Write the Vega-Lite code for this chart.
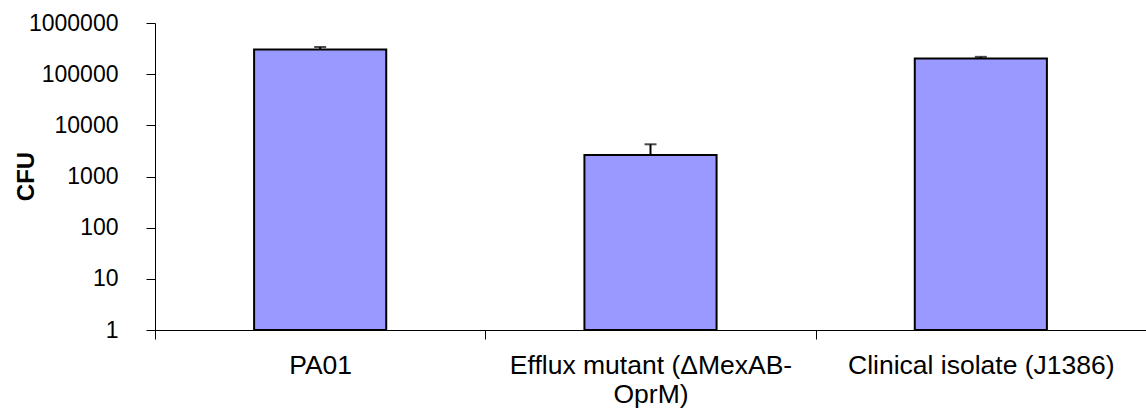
{
  "$schema": "https://vega.github.io/schema/vega-lite/v6.json",
  "autosize": "none",
  "width": 991,
  "height": 307,
  "padding": {"left": 155, "top": 23, "right": 0, "bottom": 79},
  "background": "white",
  "config": {
    "font": "Liberation Sans",
    "view": {"stroke": null},
    "axis": {"labelFont": "Liberation Sans", "titleFont": "Liberation Sans", "labelColor": "black", "titleColor": "black", "domainColor": "black", "tickColor": "black", "grid": false}
  },
  "data": {
    "values": [
      {"strain": "PA01", "cfu": 303000, "upper": 340000},
      {"strain": "Efflux mutant (ΔMexAB-OprM)", "cfu": 2630, "upper": 4260},
      {"strain": "Clinical isolate (J1386)", "cfu": 202000, "upper": 218000}
    ]
  },
  "encoding": {
    "x": {
      "field": "strain", "type": "nominal", "sort": null,
      "scale": {"paddingInner": 0, "paddingOuter": 0},
      "axis": {
        "title": null, "labelAngle": 0, "labelFontSize": 26.5, "labelPadding": 13,
        "tickBand": "extent", "tickSize": 9, "domainWidth": 1, "tickWidth": 1,
        "labelLineHeight": 29, "labelLimit": 400,
        "labelExpr": "datum.value == 'Efflux mutant (ΔMexAB-OprM)' ? ['Efflux mutant (ΔMexAB-', 'OprM)'] : datum.label"
      }
    }
  },
  "layer": [
    {
      "mark": {"type": "bar", "color": "#9999FF", "stroke": "black", "strokeWidth": 2, "width": {"band": 0.4}},
      "encoding": {
        "y": {
          "field": "cfu", "type": "quantitative",
          "scale": {"type": "log", "domain": [1, 1000000]},
          "axis": {
            "title": "CFU", "titleFontSize": 24, "titleFontWeight": "bold",
            "titleX": -122, "titleY": 153, "titleAngle": -90, "titleBaseline": "alphabetic", "titleAlign": "center",
            "values": [1, 10, 100, 1000, 10000, 100000, 1000000],
            "format": "d", "labelFontSize": 23, "labelPadding": 28, "tickSize": 9,
            "domainWidth": 1, "tickWidth": 1
          }
        },
        "y2": {"datum": 1}
      }
    },
    {
      "mark": {"type": "rule", "color": "black", "strokeWidth": 2},
      "encoding": {
        "y": {"field": "cfu", "type": "quantitative"},
        "y2": {"field": "upper"}
      }
    },
    {
      "mark": {"type": "tick", "color": "black", "size": 12, "thickness": 2},
      "encoding": {
        "y": {"field": "upper", "type": "quantitative"}
      }
    }
  ]
}
